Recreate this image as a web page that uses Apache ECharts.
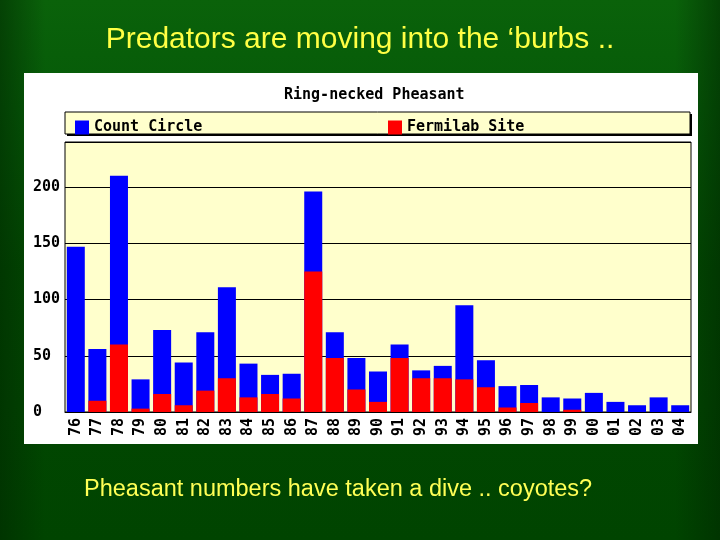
<!DOCTYPE html>
<html>
<head>
<meta charset="utf-8">
<script src="https://cdn.jsdelivr.net/npm/echarts@6/dist/echarts.min.js"></script>
<style>
  html, body { margin: 0; padding: 0; }
  #chart { width: 720px; height: 540px; }
</style>
</head>
<body>
<div id="chart"></div>
<script>
// years on the x axis (two-digit)
const years = ['76', '77', '78', '79', '80', '81', '82', '83', '84', '85', '86', '87', '88', '89',
  '90', '91', '92', '93', '94', '95', '96', '97', '98', '99', '00', '01', '02', '03', '04'];

// pheasants counted in the whole count circle
const countCircle = [147, 56, 210, 29, 73, 44, 71, 111, 43, 33, 34, 196, 71, 48,
  36, 60, 37, 41, 95, 46, 23, 24, 13, 12, 17, 9, 6, 13, 6];

// pheasants counted on the Fermilab site
const fermilabSite = [0, 10, 60, 3, 16, 6, 19, 30, 13, 16, 12, 125, 48, 20,
  9, 48, 30, 30, 29, 22, 4, 8, 0, 2, 0, 0, 0, 0, 0];

const yTicks = { min: 0, max: 240, interval: 50 };

const MONO = '"DejaVu Sans Mono", "Liberation Mono", monospace';
const SANS = '"Liberation Sans", Arial, sans-serif';

const chart = echarts.init(document.getElementById('chart'));

// darker edges of the slide background
function edge(x, y, w, h, gx, gy, gx2, gy2) {
  return {
    type: 'rect', z: -20, silent: true,
    shape: { x, y, width: w, height: h },
    style: {
      fill: new echarts.graphic.LinearGradient(gx, gy, gx2, gy2, [
        { offset: 0, color: 'rgba(0,40,0,0.55)' },
        { offset: 1, color: 'rgba(0,40,0,0)' },
      ]),
    },
  };
}

const option = {
  animation: false,
  backgroundColor: new echarts.graphic.LinearGradient(0, 0, 0, 1, [
    { offset: 0, color: '#0a620a' },
    { offset: 0.2, color: '#065a08' },
    { offset: 0.5, color: '#024a02' },
    { offset: 1, color: '#004400' },
  ]),
  title: [
    {
      text: 'Predators are moving into the \u2018burbs ..',
      left: 'center',
      top: 20,
      textStyle: { color: '#ffff44', fontFamily: SANS, fontWeight: 'normal', fontSize: 30 },
    },
    {
      text: 'Ring-necked Pheasant',
      left: 279,
      top: 83,
      textStyle: { color: '#000', fontFamily: MONO, fontWeight: 'bold', fontSize: 15 },
    },
    {
      text: 'Pheasant numbers have taken a dive .. coyotes?',
      left: 79,
      top: 473,
      textStyle: { color: '#ffff55', fontFamily: SANS, fontWeight: 'normal', fontSize: 23.5 },
    },
  ],
  graphic: [
    edge(0, 0, 45, 540, 0, 0, 1, 0),
    edge(675, 0, 45, 540, 1, 0, 0, 0),
    // white panel behind the chart
    { type: 'rect', z: -10, shape: { x: 24, y: 73, width: 674, height: 371 }, style: { fill: '#ffffff' } },
    // legend box with a heavier bottom/right edge
    { type: 'rect', z: -9, shape: { x: 67, y: 114, width: 625, height: 22 }, style: { fill: '#000' } },
    { type: 'rect', z: -8, shape: { x: 65, y: 112, width: 625, height: 22 },
      style: { fill: '#ffffcc', stroke: '#000', lineWidth: 1 } },
  ],
  legend: [
    {
      data: ['Count Circle'],
      left: 70, top: 115,
      itemWidth: 14, itemHeight: 14,
      icon: 'rect',
      textStyle: { color: '#000', fontFamily: MONO, fontWeight: 'bold', fontSize: 15 },
    },
    {
      data: ['Fermilab Site'],
      left: 383, top: 115,
      itemWidth: 14, itemHeight: 14,
      icon: 'rect',
      textStyle: { color: '#000', fontFamily: MONO, fontWeight: 'bold', fontSize: 15 },
    },
  ],
  grid: {
    left: 65, right: 29, top: 142, bottom: 128,
    show: true,
    backgroundColor: '#ffffcc',
    borderColor: '#000',
    borderWidth: 1,
  },
  xAxis: {
    type: 'category',
    data: years,
    axisLine: { lineStyle: { color: '#000', width: 1 } },
    axisTick: { show: false },
    axisLabel: {
      interval: 0,
      rotate: 90,
      margin: 6,
      color: '#000',
      fontFamily: MONO,
      fontWeight: 'bold',
      fontSize: 15,
    },
  },
  yAxis: {
    type: 'value',
    min: yTicks.min,
    max: yTicks.max,
    interval: yTicks.interval,
    axisLine: { show: false },
    axisTick: { show: false },
    axisLabel: {
      showMaxLabel: false,
      align: 'left',
      margin: 32,
      color: '#000',
      fontFamily: MONO,
      fontWeight: 'bold',
      fontSize: 15,
    },
    splitLine: { lineStyle: { color: '#000', width: 1 } },
  },
  series: [
    {
      name: 'Count Circle',
      type: 'bar',
      data: countCircle,
      barWidth: 18,
      barGap: '-100%',
      itemStyle: { color: '#0000ff' },
    },
    {
      name: 'Fermilab Site',
      type: 'bar',
      data: fermilabSite,
      barWidth: 18,
      barGap: '-100%',
      itemStyle: { color: '#ff0000' },
    },
  ],
};

chart.setOption(option);
</script>
</body>
</html>
